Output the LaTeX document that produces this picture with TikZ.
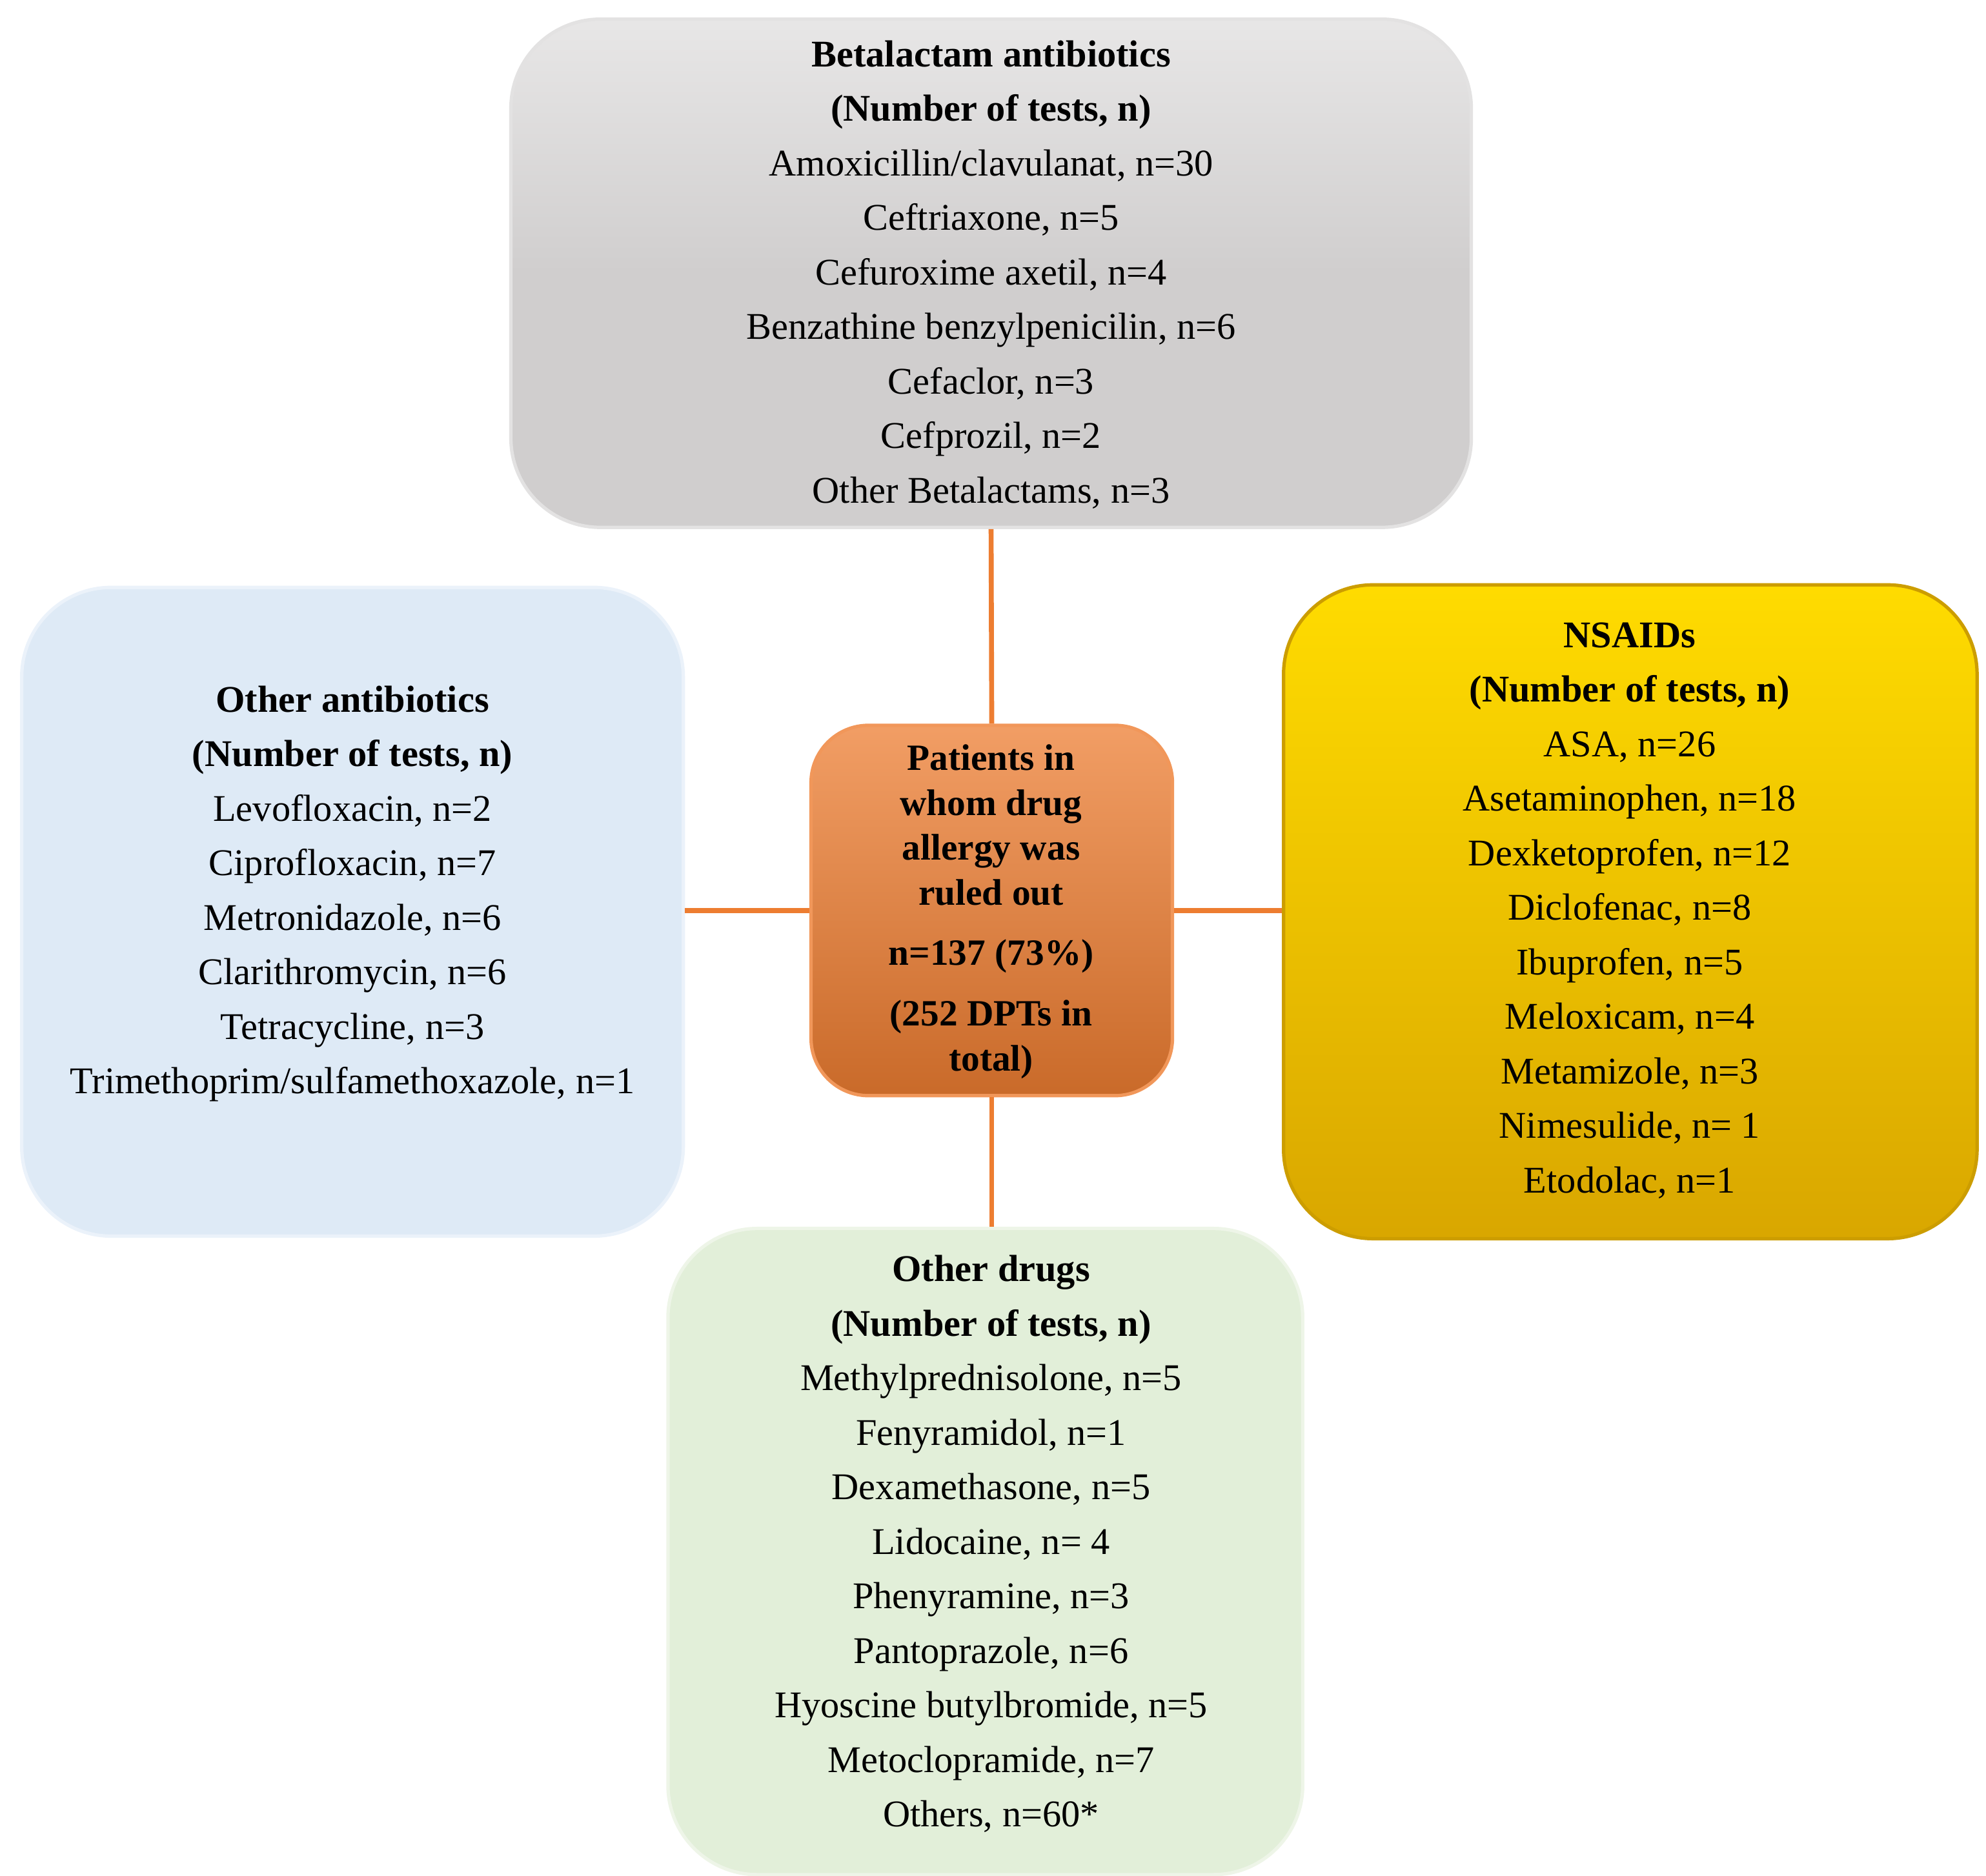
\documentclass[tikz,border=0pt]{standalone}
\usepackage{fontspec}
\setmainfont{Liberation Serif}
\begin{document}
\begin{tikzpicture}[x=0.02cm,y=-0.02cm,
 box/.style={draw=#1!60!white,line width=1.5pt,rounded corners=1.4cm,inner sep=0pt},
 txt/.style={align=center,font=\fontsize{16.8}{24.3}\selectfont},
 ctxt/.style={align=center,font=\bfseries\fontsize{16.5}{20}\selectfont},
 link/.style={draw={rgb,255:red,237;green,125;blue,49},line width=2.2pt}]
\useasboundingbox (0,0) rectangle (1555,1469);
\definecolor{gr}{RGB}{208,206,206}
\definecolor{bl}{RGB}{222,234,246}
\definecolor{gn}{RGB}{226,239,217}
\definecolor{yl}{RGB}{255,196,0}
\definecolor{or}{RGB}{237,125,49}
\node[box=gr,minimum width=752*0.02cm,minimum height=398*0.02cm,top color=gr!50!white,bottom color=gr,middle color=gr,shading angle=0] (top) at (776,214) {};
\node[box=bl,fill=bl,minimum width=518*0.02cm,minimum height=508*0.02cm] (left) at (276,714) {};
\node[box=yl,draw=yl!80!black,top color=yl!60!yellow,bottom color=yl!85!black,minimum width=543*0.02cm,minimum height=512*0.02cm] (right) at (1276.5,714) {};
\node[box=gn,fill=gn,minimum width=497*0.02cm,minimum height=506*0.02cm] (bot) at (771.5,1215) {};
\node[box=or,draw=or!80!white,top color=or!75!white,bottom color=or!85!black,rounded corners=0.9cm,minimum width=283*0.02cm,minimum height=290*0.02cm] (ctr) at (776.5,713) {};
\draw[link] (top.south) -- (ctr.north);
\draw[link] (ctr.south) -- (ctr.south |- bot.north);
\draw[link] (left.east |- ctr.west) -- (ctr.west);
\draw[link] (ctr.east) -- (right.west |- ctr.east);
\node[txt] (ttop) at (776,215) {\textbf{Betalactam antibiotics}\\ \textbf{(Number of tests, n)}\\Amoxicillin/clavulanat, n=30\\Ceftriaxone, n=5\\Cefuroxime axetil, n=4\\Benzathine benzylpenicilin, n=6\\Cefaclor, n=3\\Cefprozil, n=2\\Other Betalactams, n=3};
\node[txt] (tleft) at (276,700) {\textbf{Other antibiotics}\\ \textbf{(Number of tests, n)}\\Levofloxacin, n=2\\Ciprofloxacin, n=7\\Metronidazole, n=6\\Clarithromycin, n=6\\Tetracycline, n=3\\Trimethoprim/sulfamethoxazole, n=1};
\node[txt] (tright) at (1276,713) {\textbf{NSAIDs}\\ \textbf{(Number of tests, n)}\\ASA, n=26\\Asetaminophen, n=18\\Dexketoprofen, n=12\\Diclofenac, n=8\\Ibuprofen, n=5\\Meloxicam, n=4\\Metamizole, n=3\\Nimesulide, n= 1\\Etodolac, n=1};
\node[txt] (tbot) at (776,1209) {\textbf{Other drugs}\\ \textbf{(Number of tests, n)}\\Methylprednisolone, n=5\\Fenyramidol, n=1\\Dexamethasone, n=5\\Lidocaine, n= 4\\Phenyramine, n=3\\Pantoprazole, n=6\\Hyoscine butylbromide, n=5\\Metoclopramide, n=7\\Others, n=60*};
\node[ctxt] (tc1) at (776,646) {Patients in\\whom drug\\allergy was\\ruled out};
\node[ctxt] (tc2) at (776,749) {n=137 (73\%)};
\node[ctxt] (tc3) at (776,814) {(252 DPTs in\\total)};
\end{tikzpicture}
\end{document}
